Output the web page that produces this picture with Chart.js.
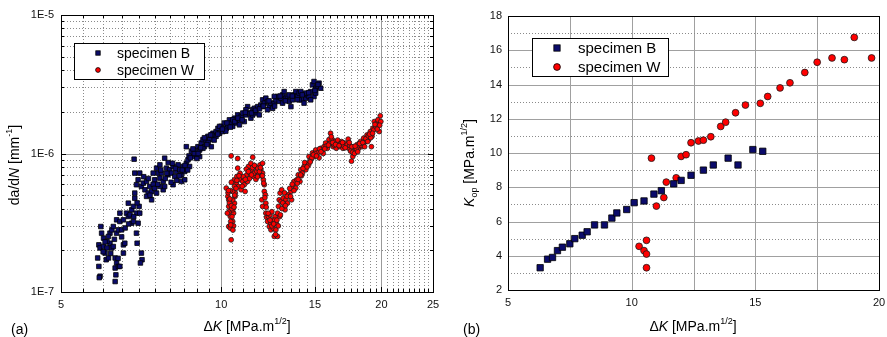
<!DOCTYPE html>
<html>
<head>
<meta charset="utf-8">
<script src="https://cdn.jsdelivr.net/npm/chart.js@4.4.1/dist/chart.umd.min.js"></script>
<style>
html, body { margin: 0; padding: 0; background: #fff; }
#wrap { position: relative; width: 887px; height: 337px; }
#wrap canvas { position: absolute; top: 0; }
</style>
</head>
<body>
<div id="wrap">
    <canvas id="chartA" width="450" height="337" style="left:0"></canvas>
    <canvas id="chartB" width="437" height="337" style="left:450px"></canvas>
</div>
<script>
// (a) crack growth rate vs stress intensity range
const specB_dK = [
    5.86, 5.89, 5.92, 5.90, 5.96, 5.94, 6.01, 5.89, 5.92, 6.01,
    6.10, 6.05, 6.08, 6.14, 6.18, 6.23, 6.27, 6.32, 6.36, 6.32,
    6.34, 6.41, 6.45, 6.32, 6.18, 6.23, 6.27, 6.14, 6.10, 6.36,
    6.41, 6.36, 6.45, 6.50, 6.55, 6.59, 6.55, 6.45, 6.55, 6.64,
    6.69, 6.69, 6.74, 6.79, 6.84, 6.88, 6.93, 6.79, 6.84, 6.93,
    6.95, 6.98, 7.03, 7.01, 7.08, 7.10, 7.05, 6.88, 6.88, 6.86,
    6.93, 6.98, 7.03, 7.08, 7.14, 7.19, 7.24, 7.29, 7.34, 7.40,
    7.24, 7.40, 7.45, 7.50, 7.56, 7.61, 7.67, 7.67, 7.72, 7.78,
    7.83, 7.89, 7.94, 7.78, 7.83, 8.00, 8.06, 8.12, 8.18, 8.24,
    8.30, 8.36, 8.42, 8.42, 8.48, 8.54, 8.60, 8.66, 8.72, 8.60,
    8.79, 8.85, 8.91, 8.98, 9.04, 9.11, 9.17, 9.24, 9.30, 9.37,
    9.44, 9.51, 9.58, 9.65, 9.71, 9.78, 9.86, 9.93, 10.0, 10.07,
    10.14, 10.22, 10.29, 10.36, 10.44, 10.51, 10.59, 10.67, 10.74, 10.82,
    10.90, 10.98, 11.05, 11.13, 11.21, 11.29, 11.37, 11.46, 11.54, 11.62,
    11.71, 11.79, 11.87, 11.96, 12.05, 12.13, 12.22, 12.31, 12.40, 12.49,
    12.58, 12.67, 12.76, 12.85, 12.95, 13.04, 13.13, 13.23, 13.32, 13.42,
    13.52, 13.61, 13.71, 13.81, 13.91, 14.01, 14.11, 14.21, 14.31, 14.42,
    14.52, 14.62, 14.73, 14.84, 14.94, 15.05, 15.16, 15.27, 15.38, 14.94,
    14.73, 9.11, 9.24, 9.78, 9.93, 10.51, 10.82, 11.13, 11.46, 11.96,
    12.22, 12.58, 13.04, 13.42, 14.01, 14.42, 15.05, 8.54, 8.12, 7.67,
    7.56, 8.70, 8.90, 9.00, 7.45, 7.95, 8.25, 9.45, 9.60, 10.2,
    7.15, 7.30, 7.35, 7.50, 7.60, 7.70, 7.85, 7.90, 8.05, 8.10,
    8.20, 8.35, 8.45, 8.55, 8.65, 8.75, 8.85, 9.05, 9.15, 9.30,
    9.40, 9.55, 9.70, 9.85, 10.05, 10.25, 10.40, 10.60, 10.75, 10.95,
    11.10, 11.40, 11.60, 11.80, 12.00, 12.30, 12.60, 12.90, 13.20, 13.60,
    13.90, 14.20, 14.60, 15.00, 15.20, 6.00, 6.20, 6.30, 6.50, 6.60,
    6.70, 6.85, 6.95, 6.05, 6.40
];
const specB_dadN = [
    1.76e-7, 1.53e-7, 1.30e-7, 1.27e-7, 2.66e-7, 2.97e-7, 2.45e-7, 2.19e-7, 2.08e-7, 2.13e-7,
    2.08e-7, 1.91e-7, 1.71e-7, 1.76e-7, 2.25e-7, 2.08e-7, 2.13e-7, 1.76e-7, 1.62e-7, 1.49e-7,
    1.33e-7, 1.53e-7, 1.53e-7, 1.19e-7, 2.66e-7, 2.81e-7, 2.97e-7, 2.52e-7, 2.32e-7, 2.66e-7,
    2.81e-7, 3.32e-7, 3.23e-7, 2.81e-7, 2.19e-7, 2.25e-7, 1.91e-7, 3.71e-7, 3.32e-7, 3.71e-7,
    4.38e-7, 3.51e-7, 3.61e-7, 3.92e-7, 4.15e-7, 4.76e-7, 3.71e-7, 3.14e-7, 3.23e-7, 2.66e-7,
    2.25e-7, 3.14e-7, 3.71e-7, 4.15e-7, 1.91e-7, 1.71e-7, 1.62e-7, 5.18e-7, 7.22e-7, 9.1e-7,
    5.95e-7, 6.46e-7, 7.22e-7, 5.78e-7, 6.11e-7, 5.47e-7, 6.28e-7, 5.18e-7, 5.78e-7, 4.63e-7,
    4.90e-7, 5.32e-7, 7.22e-7, 6.46e-7, 7.84e-7, 7.22e-7, 6.64e-7, 8.28e-7, 7.22e-7, 6.28e-7,
    9.25e-7, 7.84e-7, 7.02e-7, 5.47e-7, 5.78e-7, 7.63e-7, 7.22e-7, 8.06e-7, 6.83e-7, 7.42e-7,
    8.28e-7, 7.63e-7, 7.02e-7, 6.28e-7, 8.06e-7, 7.42e-7, 8.5e-7, 9.0e-7, 8.06e-7, 1.12e-6,
    1.04e-6, 9.5e-7, 1.06e-6, 9.8e-7, 1.12e-6, 1.06e-6, 1.19e-6, 1.26e-6, 1.12e-6, 1.22e-6,
    1.33e-6, 1.26e-6, 1.12e-6, 1.40e-6, 1.33e-6, 1.44e-6, 1.52e-6, 1.40e-6, 1.57e-6, 1.44e-6,
    1.66e-6, 1.52e-6, 1.61e-6, 1.75e-6, 1.66e-6, 1.57e-6, 1.80e-6, 1.66e-6, 1.90e-6, 1.75e-6,
    1.85e-6, 1.96e-6, 1.70e-6, 1.90e-6, 2.18e-6, 1.96e-6, 1.80e-6, 2.07e-6, 2.12e-6, 1.96e-6,
    2.18e-6, 1.90e-6, 2.24e-6, 2.44e-6, 2.31e-6, 2.51e-6, 2.38e-6, 2.18e-6, 2.31e-6, 2.12e-6,
    2.31e-6, 2.44e-6, 2.58e-6, 2.38e-6, 2.51e-6, 2.65e-6, 2.80e-6, 2.51e-6, 2.58e-6, 2.38e-6,
    2.18e-6, 2.44e-6, 2.65e-6, 2.80e-6, 2.58e-6, 2.73e-6, 2.80e-6, 2.44e-6, 2.31e-6, 2.51e-6,
    2.65e-6, 2.58e-6, 2.80e-6, 3.13e-6, 3.31e-6, 2.96e-6, 3.05e-6, 3.22e-6, 2.96e-6, 2.58e-6,
    2.44e-6, 9.5e-7, 1.09e-6, 1.33e-6, 1.57e-6, 1.75e-6, 1.61e-6, 2.07e-6, 1.90e-6, 2.18e-6,
    2.07e-6, 2.58e-6, 2.31e-6, 2.65e-6, 2.44e-6, 2.73e-6, 2.73e-6, 6.46e-7, 5.95e-7, 5.78e-7,
    5.18e-7, 9.6e-7, 1.0e-6, 9.2e-7, 6.0e-7, 8.6e-7, 6.4e-7, 1.20e-6, 1.36e-6, 1.45e-6,
    6.8e-7, 6.6e-7, 5.0e-7, 5.6e-7, 6.0e-7, 7.6e-7, 6.6e-7, 7.2e-7, 6.2e-7, 8.5e-7,
    7.8e-7, 6.9e-7, 7.6e-7, 8.2e-7, 7.6e-7, 9.3e-7, 1.08e-6, 1.0e-6, 1.1e-6, 1.3e-6,
    1.16e-6, 1.36e-6, 1.25e-6, 1.38e-6, 1.5e-6, 1.66e-6, 1.55e-6, 1.7e-6, 1.8e-6, 1.75e-6,
    1.98e-6, 1.96e-6, 2.05e-6, 2.1e-6, 2.2e-6, 2.4e-6, 2.2e-6, 2.6e-6, 2.4e-6, 2.6e-6,
    2.45e-6, 2.65e-6, 2.75e-6, 2.85e-6, 3.15e-6, 1.95e-7, 1.9e-7, 2.4e-7, 2.5e-7, 2.9e-7,
    3.1e-7, 3.5e-7, 4.4e-7, 2.3e-7, 1.75e-7
];
const specW_dK = [
    10.44, 10.74, 11.46, 10.22, 10.29, 10.33, 10.36, 10.40, 10.33, 10.40,
    10.44, 10.51, 10.55, 10.59, 10.51, 10.63, 10.51, 10.67, 10.59, 10.70,
    10.74, 10.78, 10.86, 10.90, 10.98, 11.05, 11.09, 11.17, 11.21, 11.25,
    11.33, 11.37, 11.42, 11.50, 11.54, 11.58, 11.67, 11.71, 11.75, 11.83,
    11.87, 11.96, 11.96, 12.00, 12.05, 12.05, 11.92, 11.96, 12.13, 12.17,
    12.22, 12.27, 12.31, 12.40, 12.40, 12.49, 12.52, 12.58, 12.67, 12.76,
    12.63, 12.76, 12.81, 12.85, 12.90, 12.99, 12.95, 13.08, 13.13, 13.18,
    13.23, 13.32, 13.37, 13.52, 13.56, 13.66, 13.71, 13.81, 13.86, 13.96,
    14.06, 14.11, 14.21, 14.31, 14.42, 14.52, 14.62, 14.73, 14.84, 14.94,
    15.05, 15.16, 15.27, 15.38, 15.49, 15.60, 15.71, 15.83, 15.94, 16.05,
    16.17, 16.24, 16.35, 16.45, 16.59, 16.69, 16.83, 16.93, 17.07, 17.17,
    17.32, 17.37, 17.50, 17.57, 17.67, 17.74, 17.87, 18.00, 18.13, 18.26,
    18.39, 18.52, 18.66, 18.79, 18.93, 19.06, 19.20, 19.28, 19.39, 19.48,
    19.62, 19.76, 19.90, 19.81, 19.15, 10.33, 10.27, 10.51, 10.42, 10.59,
    12.13, 12.10, 10.36, 10.47, 10.40, 10.55, 10.30, 10.62, 10.45, 10.85,
    11.00, 11.15, 11.30, 11.45, 11.62, 11.80, 11.90, 12.35, 12.45, 12.60,
    12.70, 12.88, 13.00, 13.15, 13.45, 13.60, 13.90, 14.15, 14.35, 14.60,
    14.80, 15.00, 15.30, 15.55, 15.75, 16.00, 16.10, 16.30, 16.55, 16.75,
    17.00, 17.25, 17.45, 17.65, 17.80, 17.95, 18.10, 18.30, 18.50, 18.70,
    18.90, 19.10, 19.35, 19.55, 19.70, 19.95,
    10.32, 10.38, 10.45, 10.48, 10.52, 10.42, 10.57, 10.60, 10.66, 10.70,
    10.80, 10.95, 11.10, 11.25, 11.40, 11.55, 11.70, 11.85, 11.95, 12.02,
    12.08, 12.15, 12.25, 12.35, 12.45, 12.55, 12.65, 12.72, 12.80, 12.92,
    13.05, 13.20, 13.30, 13.50, 13.70, 13.95, 14.10, 14.25, 14.50, 14.70,
    14.90, 15.10, 15.40, 15.65, 15.90, 16.20, 16.40, 16.65, 16.90, 17.10,
    17.40, 17.60, 17.85, 18.05, 18.20, 18.45, 18.60, 18.85, 19.00, 19.25,
    19.45, 19.65, 19.85
];
const specW_dadN = [
    9.6e-7, 9.2e-7, 9.4e-7, 5.63e-7, 4.90e-7, 4.15e-7, 3.82e-7, 3.51e-7, 2.97e-7, 2.89e-7,
    2.38e-7, 3.23e-7, 3.71e-7, 4.38e-7, 4.63e-7, 5.18e-7, 5.32e-7, 6.11e-7, 6.46e-7, 6.83e-7,
    7.84e-7, 5.78e-7, 6.46e-7, 5.47e-7, 6.28e-7, 5.95e-7, 5.32e-7, 7.02e-7, 6.28e-7, 8.06e-7,
    7.22e-7, 8.5e-7, 7.63e-7, 6.83e-7, 7.22e-7, 8.06e-7, 7.42e-7, 7.84e-7, 7.02e-7, 8.28e-7,
    7.63e-7, 8.5e-7, 7.22e-7, 6.46e-7, 5.95e-7, 5.32e-7, 4.63e-7, 4.15e-7, 3.71e-7, 3.46e-7,
    3.23e-7, 3.51e-7, 2.97e-7, 3.14e-7, 2.81e-7, 3.32e-7, 2.89e-7, 2.52e-7, 2.81e-7, 2.52e-7,
    3.51e-7, 3.71e-7, 4.15e-7, 4.63e-7, 5.18e-7, 5.47e-7, 4.50e-7, 4.76e-7, 4.26e-7, 3.92e-7,
    4.63e-7, 4.38e-7, 5.04e-7, 5.32e-7, 4.63e-7, 5.78e-7, 6.28e-7, 5.63e-7, 6.46e-7, 7.02e-7,
    6.28e-7, 7.63e-7, 7.22e-7, 8.06e-7, 7.63e-7, 8.5e-7, 9.5e-7, 9.0e-7, 1.01e-6, 9.5e-7,
    1.06e-6, 1.01e-6, 9.3e-7, 1.09e-6, 1.04e-6, 1.12e-6, 1.19e-6, 1.09e-6, 1.26e-6, 1.40e-6,
    1.26e-6, 1.12e-6, 1.22e-6, 1.09e-6, 1.19e-6, 1.12e-6, 1.22e-6, 1.09e-6, 1.19e-6, 1.12e-6,
    1.27e-6, 1.09e-6, 1.04e-6, 8.8e-7, 9.5e-7, 1.12e-6, 1.06e-6, 1.16e-6, 1.09e-6, 1.22e-6,
    1.12e-6, 1.29e-6, 1.22e-6, 1.36e-6, 1.26e-6, 1.44e-6, 1.33e-6, 1.52e-6, 1.70e-6, 1.57e-6,
    1.66e-6, 1.61e-6, 1.87e-6, 1.44e-6, 1.12e-6, 4.63e-7, 3.71e-7, 3.92e-7, 3.23e-7, 5.78e-7,
    4.38e-7, 5.04e-7, 4.4e-7, 4.0e-7, 5.4e-7, 3.0e-7, 5.2e-7, 4.9e-7, 6.2e-7, 7.2e-7,
    6.8e-7, 7.7e-7, 6.6e-7, 7.9e-7, 6.5e-7, 7.4e-7, 6.9e-7, 3.6e-7, 3.8e-7, 3.3e-7,
    3.1e-7, 3.5e-7, 4.0e-7, 5.2e-7, 5.6e-7, 6.0e-7, 6.1e-7, 6.9e-7, 8.6e-7, 8.3e-7,
    9.3e-7, 1.0e-6, 1.08e-6, 1.0e-6, 1.13e-6, 1.18e-6, 1.32e-6, 1.15e-6, 1.25e-6, 1.17e-6,
    1.13e-6, 1.16e-6, 1.14e-6, 1.02e-6, 1.00e-6, 1.08e-6, 1.14e-6, 1.15e-6, 1.18e-6, 1.28e-6,
    1.34e-6, 1.30e-6, 1.48e-6, 1.55e-6, 1.75e-6, 1.70e-6,
    5.4e-7, 4.7e-7, 4.2e-7, 3.5e-7, 2.8e-7, 3.05e-7, 4.1e-7, 5.0e-7, 5.6e-7, 6.4e-7,
    6.9e-7, 5.8e-7, 6.5e-7, 7.4e-7, 7.0e-7, 8.2e-7, 6.8e-7, 7.9e-7, 6.9e-7, 6.1e-7,
    4.8e-7, 4.1e-7, 3.7e-7, 3.3e-7, 3.0e-7, 3.1e-7, 2.6e-7, 3.3e-7, 3.0e-7, 3.6e-7,
    4.4e-7, 4.2e-7, 4.9e-7, 4.9e-7, 5.4e-7, 6.5e-7, 7.0e-7, 7.8e-7, 8.0e-7, 8.7e-7,
    9.8e-7, 9.6e-7, 1.03e-6, 1.08e-6, 1.15e-6, 1.2e-6, 1.16e-6, 1.14e-6, 1.2e-6, 1.1e-6,
    1.2e-6, 1.12e-6, 1.13e-6, 1.03e-6, 1.18e-6, 1.2e-6, 1.12e-6, 1.22e-6, 1.38e-6, 1.4e-6,
    1.62e-6, 1.5e-6, 1.6e-6
];

// (b) opening stress intensity vs stress intensity range
const kopB_dK = [6.3, 6.6, 6.8, 7.0, 7.2, 7.5, 7.7, 8.0, 8.2, 8.5, 8.9, 9.2, 9.4, 9.8, 10.1, 10.5, 10.9, 11.2, 11.7, 12.0, 12.4, 12.9, 13.3, 13.9, 14.3, 14.9, 15.3];
const kopB_Kop = [3.3, 3.8, 3.9, 4.3, 4.5, 4.7, 5.0, 5.2, 5.4, 5.8, 5.8, 6.2, 6.5, 6.7, 7.1, 7.2, 7.6, 7.8, 8.2, 8.4, 8.7, 9.0, 9.3, 9.7, 9.3, 10.2, 10.1];
const kopW_dK = [10.3, 10.5, 10.6, 10.6, 10.6, 10.8, 11.0, 11.3, 11.4, 11.8, 12.0, 12.2, 12.4, 12.7, 12.9, 13.2, 13.6, 13.8, 14.2, 14.6, 15.2, 15.5, 16.0, 16.4, 17.0, 17.5, 18.1, 18.6, 19.0, 19.7];
const kopW_Kop = [4.55, 4.3, 4.9, 4.1, 3.3, 9.7, 6.9, 7.4, 8.3, 8.55, 9.8, 9.9, 10.6, 10.7, 10.75, 10.95, 11.55, 11.8, 12.35, 12.8, 12.9, 13.3, 13.8, 14.1, 14.7, 15.3, 15.55, 15.45, 16.75, 15.55];

// axis ticks
const xLabelsA = [5, 10, 15, 20, 25];
const yDecadesA = [1e-7, 1e-6, 1e-5];
const yLabelsA = ["1E-7", "1E-6", "1E-5"];
const xLabelsB = [5, 10, 15, 20];
const yLabelsB = [2, 4, 6, 8, 10, 12, 14, 16, 18];

const seriesNames = ["specimen B", "specimen W"];

const FONT = "'Liberation Sans', Arial, Helvetica, sans-serif";
const NAVY = "#0b0b6b";
const RED = "#ff0000";

Chart.defaults.font.family = FONT;
Chart.defaults.color = "#000";

function toPoints(xs, ys) {
    return xs.map((x, i) => ({x: x, y: ys[i]}));
}

// minor grid for panel (a): every 0.5 in x, 1..9 per decade in y
let gridXA = [];
for (let v = 5; v <= 25; v += 0.5) gridXA.push(v);
let gridYA = [];
for (let e = -7; e < -5; e++) {
    for (let m = 1; m < 10; m++) gridYA.push(m * Math.pow(10, e));
}
gridYA.push(1e-5);

function isDecade(v) {
    const l = Math.log10(v);
    return Math.abs(l - Math.round(l)) < 1e-6;
}

function richText(ctx, parts, cx, cy, size, rotate) {
    ctx.save();
    ctx.translate(cx, cy);
    if (rotate) ctx.rotate(-Math.PI / 2);
    const fontOf = p => (p.i ? "italic " : "") + ((p.sup || p.sub) ? Math.round(size * 0.62) : size) + "px " + FONT;
    let widths = [];
    let total = 0;
    parts.forEach(p => {
        ctx.font = fontOf(p);
        const w = ctx.measureText(p.t).width;
        widths.push(w);
        total += w;
    });
    let x = -total / 2;
    ctx.textBaseline = "middle";
    ctx.textAlign = "left";
    ctx.fillStyle = "#000";
    parts.forEach((p, i) => {
        ctx.font = fontOf(p);
        const dy = p.sup ? -size * 0.38 : (p.sub ? size * 0.32 : 0);
        ctx.fillText(p.t, x, dy);
        x += widths[i];
    });
    ctx.restore();
}

function line(ctx, x1, y1, x2, y2) {
    ctx.beginPath();
    ctx.moveTo(x1, y1);
    ctx.lineTo(x2, y2);
    ctx.stroke();
}

function drawLegend(ctx, box, rows, sq, rad, fontSize) {
    ctx.save();
    ctx.fillStyle = "#fff";
    ctx.fillRect(box.x, box.y, box.w, box.h);
    ctx.strokeStyle = "#000";
    ctx.lineWidth = 1;
    ctx.strokeRect(box.x + 0.5, box.y + 0.5, box.w, box.h);
    ctx.font = fontSize + "px " + FONT;
    ctx.textBaseline = "middle";
    ctx.textAlign = "left";
    rows.forEach((r, i) => {
        ctx.lineWidth = 0.8;
        ctx.strokeStyle = "#000";
        if (i === 0) {
            ctx.fillStyle = NAVY;
            ctx.fillRect(r.mx - sq / 2, r.my - sq / 2, sq, sq);
            ctx.strokeRect(r.mx - sq / 2, r.my - sq / 2, sq, sq);
        } else {
            ctx.fillStyle = RED;
            ctx.beginPath();
            ctx.arc(r.mx, r.my, rad, 0, Math.PI * 2);
            ctx.fill();
            ctx.stroke();
        }
        ctx.fillStyle = "#000";
        ctx.fillText(seriesNames[i], r.tx, r.my + 1);
    });
    ctx.restore();
}

const panelA = {
    id: "panelA",
    beforeDatasetsDraw(chart) {
        const {ctx, chartArea: a, scales: {x, y}} = chart;
        ctx.save();
        ctx.lineWidth = 1;
        gridXA.forEach(v => {
            const px = Math.round(x.getPixelForValue(v)) + 0.5;
            if (v === 10 || v === 15 || v === 20) {
                ctx.setLineDash([]);
                ctx.strokeStyle = "#9a9a9a";
            } else {
                ctx.setLineDash([1, 2]);
                ctx.strokeStyle = "#8a8a8a";
            }
            line(ctx, px, a.top, px, a.bottom);
        });
        gridYA.forEach(v => {
            const py = Math.round(y.getPixelForValue(v)) + 0.5;
            if (isDecade(v)) {
                ctx.setLineDash([]);
                ctx.strokeStyle = "#9a9a9a";
            } else {
                ctx.setLineDash([1, 2]);
                ctx.strokeStyle = "#8a8a8a";
            }
            line(ctx, a.left, py, a.right, py);
        });
        ctx.restore();
    },
    afterDatasetsDraw(chart) {
        const {ctx, chartArea: a, scales: {x, y}} = chart;
        ctx.save();
        ctx.strokeStyle = "#000";
        ctx.lineWidth = 1;
        gridXA.forEach(v => {
            const px = Math.round(x.getPixelForValue(v)) + 0.5;
            const len = xLabelsA.includes(v) ? 5 : 3;
            line(ctx, px, a.bottom, px, a.bottom - len);
            line(ctx, px, a.top, px, a.top + len);
        });
        gridYA.forEach(v => {
            const py = Math.round(y.getPixelForValue(v)) + 0.5;
            const len = isDecade(v) ? 5 : 3;
            line(ctx, a.left, py, a.left + len, py);
            line(ctx, a.right, py, a.right - len, py);
        });
        ctx.strokeRect(Math.round(a.left) + 0.5, Math.round(a.top) + 0.5, Math.round(a.right - a.left), Math.round(a.bottom - a.top));
        ctx.restore();

        drawLegend(ctx, {x: 74, y: 43, w: 130, h: 36}, [
            {mx: 98, my: 53, tx: 117},
            {mx: 98, my: 70, tx: 117}
        ], 4.4, 2.4, 14);

        richText(ctx, [{t: "\u0394"}, {t: "K", i: true}, {t: " [MPa.m"}, {t: "1/2", sup: true}, {t: "]"}], 247, 327, 14, false);
        richText(ctx, [{t: "da/d"}, {t: "N", i: true}, {t: " [mm"}, {t: "-1", sup: true}, {t: "]"}], 15, 165, 14, true);
        ctx.save();
        ctx.font = "14px " + FONT;
        ctx.fillStyle = "#000";
        ctx.textBaseline = "middle";
        ctx.fillText("(a)", 11, 330);
        ctx.restore();
    }
};

const panelB = {
    id: "panelB",
    beforeDatasetsDraw(chart) {
        const {ctx, chartArea: a, scales: {x, y}} = chart;
        ctx.save();
        ctx.lineWidth = 1;
        for (let v = 7.5; v < 20; v += 2.5) {
            const px = Math.round(x.getPixelForValue(v)) + 0.5;
            ctx.setLineDash([]);
            ctx.strokeStyle = "#a0a0a0";
            line(ctx, px, a.top, px, a.bottom);
        }
        for (let v = 3; v < 18; v++) {
            const py = Math.round(y.getPixelForValue(v)) + 0.5;
            if (v % 2 === 0) {
                ctx.setLineDash([]);
                ctx.strokeStyle = "#a0a0a0";
            } else {
                ctx.setLineDash([1, 2]);
                ctx.strokeStyle = "#8a8a8a";
            }
            line(ctx, a.left, py, a.right, py);
        }
        ctx.restore();
    },
    afterDatasetsDraw(chart) {
        const {ctx, chartArea: a} = chart;
        ctx.save();
        ctx.strokeStyle = "#000";
        ctx.lineWidth = 1;
        ctx.strokeRect(Math.round(a.left) + 0.5, Math.round(a.top) + 0.5, Math.round(a.right - a.left), Math.round(a.bottom - a.top));
        ctx.restore();

        drawLegend(ctx, {x: 82, y: 38, w: 136, h: 38}, [
            {mx: 107, my: 48, tx: 128},
            {mx: 107, my: 67, tx: 128}
        ], 6.3, 3.4, 15);

        richText(ctx, [{t: "\u0394"}, {t: "K", i: true}, {t: " [MPa.m"}, {t: "1/2", sup: true}, {t: "]"}], 243, 327, 14, false);
        richText(ctx, [{t: "K", i: true}, {t: "op", sub: true}, {t: " [MPa.m"}, {t: "1/2", sup: true}, {t: "]"}], 20, 163, 14, true);
        ctx.save();
        ctx.font = "14px " + FONT;
        ctx.fillStyle = "#000";
        ctx.textBaseline = "middle";
        ctx.fillText("(b)", 13, 330);
        ctx.restore();
    }
};

function fixWidth(w) {
    return s => {
        s.width = w;
        s.paddingTop = 0;
        s.paddingBottom = 0;
    };
}

function fixHeight(h) {
    return s => {
        s.height = h;
        s.paddingLeft = 0;
        s.paddingRight = 0;
    };
}

const tickFont = {size: 11, family: FONT};

new Chart("chartA", {
    type: "scatter",
    data: {
        datasets: [{
            label: seriesNames[0],
            data: toPoints(specB_dK, specB_dadN),
            pointStyle: "rect",
            pointRadius: 3.2,
            backgroundColor: NAVY,
            borderColor: "#000",
            borderWidth: 0.8
        }, {
            label: seriesNames[1],
            data: toPoints(specW_dK, specW_dadN),
            pointStyle: "circle",
            pointRadius: 2.4,
            backgroundColor: RED,
            borderColor: "#1a1a1a",
            borderWidth: 0.8
        }]
    },
    options: {
        responsive: false,
        animation: false,
        devicePixelRatio: 1,
        events: [],
        layout: {padding: {left: 0, right: 17, top: 15, bottom: 0}},
        plugins: {legend: {display: false}, tooltip: {enabled: false}},
        scales: {
            x: {
                type: "logarithmic",
                min: 5,
                max: 25,
                grid: {display: false, drawTicks: false},
                border: {display: false},
                afterBuildTicks: s => { s.ticks = gridXA.map(v => ({value: v})); },
                afterFit: fixHeight(45),
                ticks: {
                    autoSkip: false,
                    maxRotation: 0,
                    padding: 6,
                    font: tickFont,
                    color: "#111",
                    callback: v => xLabelsA.includes(v) ? String(v) : ""
                }
            },
            y: {
                type: "logarithmic",
                min: 1e-7,
                max: 1e-5,
                grid: {display: false, drawTicks: false},
                border: {display: false},
                afterBuildTicks: s => { s.ticks = gridYA.map(v => ({value: v})); },
                afterFit: fixWidth(61),
                ticks: {
                    autoSkip: false,
                    padding: 7,
                    font: tickFont,
                    color: "#111",
                    callback: v => {
                        const i = yDecadesA.findIndex(t => Math.abs(Math.log10(t) - Math.log10(v)) < 1e-6);
                        return i >= 0 ? yLabelsA[i] : "";
                    }
                }
            }
        }
    },
    plugins: [panelA]
});

new Chart("chartB", {
    type: "scatter",
    data: {
        datasets: [{
            label: seriesNames[0],
            data: toPoints(kopB_dK, kopB_Kop),
            pointStyle: "rect",
            pointRadius: 4.5,
            backgroundColor: NAVY,
            borderColor: "#000",
            borderWidth: 0.8
        }, {
            label: seriesNames[1],
            data: toPoints(kopW_dK, kopW_Kop),
            pointStyle: "circle",
            pointRadius: 3.4,
            backgroundColor: RED,
            borderColor: "#1a1a1a",
            borderWidth: 0.8
        }]
    },
    options: {
        responsive: false,
        animation: false,
        devicePixelRatio: 1,
        events: [],
        layout: {padding: {left: 0, right: 8, top: 16, bottom: 0}},
        plugins: {legend: {display: false}, tooltip: {enabled: false}},
        scales: {
            x: {
                type: "linear",
                min: 5,
                max: 20,
                grid: {display: false, drawTicks: false},
                border: {display: false},
                afterBuildTicks: s => { s.ticks = xLabelsB.map(v => ({value: v})); },
                afterFit: fixHeight(47),
                ticks: {maxRotation: 0, padding: 6, font: tickFont, color: "#111"}
            },
            y: {
                type: "linear",
                min: 2,
                max: 18,
                grid: {display: false, drawTicks: false},
                border: {display: false},
                afterBuildTicks: s => { s.ticks = yLabelsB.map(v => ({value: v})); },
                afterFit: fixWidth(58),
                ticks: {padding: 6, font: tickFont, color: "#111"}
            }
        }
    },
    plugins: [panelB]
});
</script>
</body>
</html>
